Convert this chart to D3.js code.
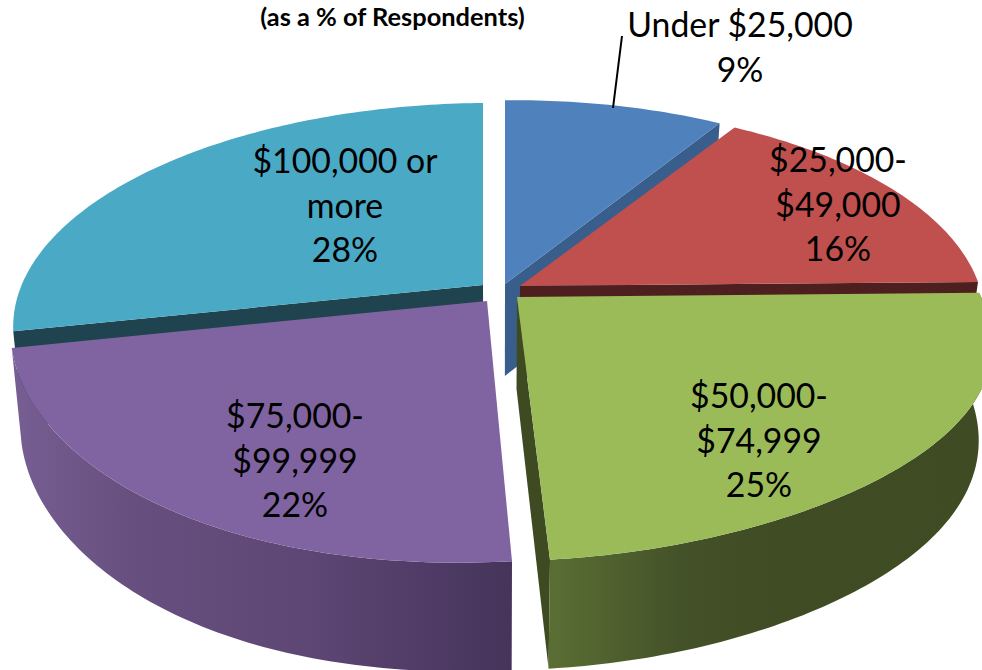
<!DOCTYPE html>
<html><head><meta charset="utf-8">
<script src="https://cdn.jsdelivr.net/npm/d3@7"></script>
<style>html,body{margin:0;padding:0;background:#fff;overflow:hidden}svg{display:block}text{font-family:Lato,Carlito,"Open Sans",sans-serif;fill:#000}</style>
</head><body><svg width="982" height="670"></svg>
<script>
(function(){
const titleText = "(as a % of Respondents)";
const categories = ["Under $25,000", "$25,000-$49,000", "$50,000-$74,999", "$75,000-$99,999", "$100,000 or more"];
const values = [9, 16, 25, 22, 28];
const labelLines = [["Under $25,000"], ["$25,000-", "$49,000"], ["$50,000-", "$74,999"], ["$75,000-", "$99,999"], ["$100,000 or", "more"]];
const topColors = ["#4f81bd", "#c0504d", "#9bbb59", "#8064a2", "#4aaac5"];
const edgeColors = ["#3a5e8b", "#4d1f1e", "#3d4a22", "#46345a", "#1f444f"];

// layout of each exploded slice: apex, radii and lean
const geom = [
  {ox:505, oy:284, R:458, S:215, lean:0},
  {ox:520, oy:286, R:458, S:212, lean:0},
  {ox:517, oy:297, R:462, S:218, lean:33},
  {ox:487, oy:301, R:473, S:216, lean:25},
  {ox:483, oy:285, R:463, S:213, lean:0}
];
const labelPos = [[740,37],[838,172],[759,408],[295,428],[345,173]];
const k = 0.17, roll = 0.009, frontRoll = 25;
const svg = d3.select("svg");
const defs = svg.append("defs");
function grad(id, stops){
  const g = defs.append("linearGradient").attr("id",id).attr("gradientUnits","userSpaceOnUse")
    .attr("x1",stops[0][0]).attr("x2",stops[stops.length-1][0]).attr("y1",0).attr("y2",0);
  const a=stops[0][0], b=stops[stops.length-1][0];
  stops.forEach(s=>g.append("stop").attr("offset",(s[0]-a)/(b-a)).attr("stop-color",s[1]));
}
grad("wall2",[[550,"#5a6e34"],[680,"#445229"],[770,"#404c24"],[982,"#3f4b23"]]);
grad("wall3",[[12,"#775e93"],[130,"#67507f"],[300,"#5e4775"],[420,"#503c67"],[512,"#46345a"]]);

const pie = d3.pie().sort(null).startAngle(0).endAngle(2*Math.PI)(values);
const line = d3.line();
function rimPoint(a, g){
  const X=Math.sin(a), Z=-Math.cos(a), w=1/(1-k*Z), F=Math.max(0,Z);
  const dx=g.R*X*w;
  return [g.ox+dx+g.lean*F, g.oy+g.S*Z*w-roll*dx-frontRoll*X*F*F];
}
function drop(p, Z){
  const shrink = p[0]>500 ? 0.972 : 0.98;
  return [500+(p[0]-500)*shrink, p[1]+92+17*Math.max(0,Z)];
}
function samples(a0,a1){const n=Math.max(2,Math.ceil((a1-a0)*60));return d3.range(n+1).map(i=>a0+(a1-a0)*i/n);}

const order=[0,1,4,3,2];
order.forEach(i=>{
  const d=pie[i], g=geom[i], G=svg.append("g");
  const apex=[g.ox,g.oy], apexDrop=drop(apex,0);
  // visible radial walls
  if(i===0||i===4){
    const a=i===0?d.endAngle:d.startAngle, r=rimPoint(a,g), rb=drop(r,-Math.cos(a));
    G.append("path").attr("d",line([apex,r,rb,apexDrop])+"Z").attr("fill",edgeColors[i]);
  }
  if(i===1){
    const a=d.endAngle, r=rimPoint(a,g), rb=drop(r,0);
    G.append("path").attr("d",line([apex,r,rb,apexDrop])+"Z").attr("fill",edgeColors[i]);
  }
  if(i===2){
    const a=d.endAngle, r=rimPoint(a,g), rb=drop(r,1);
    G.append("path").attr("d",line([apex,r,rb,apexDrop])+"Z").attr("fill",edgeColors[i]);
  }
  // rim wall
  if(i===2||i===3){
    const as=samples(d.startAngle,d.endAngle);
    const t=as.map(a=>rimPoint(a,g)), b=as.map(a=>drop(rimPoint(a,g),-Math.cos(a))).reverse();
    G.append("path").attr("d",line(t.concat(b))+"Z").attr("fill",`url(#wall${i})`);
  }
  // top face
  const face=[apex].concat(samples(d.startAngle,d.endAngle).map(a=>rimPoint(a,g)));
  G.append("path").attr("d",line(face)+"Z").attr("fill",topColors[i]);
});

// leader line
svg.append("line").attr("x1",622).attr("y1",36).attr("x2",613).attr("y2",108).attr("stroke","#000").attr("stroke-width",2);

svg.append("text").text(titleText).attr("x",392.5).attr("y",26).attr("text-anchor","middle").attr("font-size",25.4).attr("font-weight",700);

const fs=33.8, lh=44.5;
values.forEach((v,i)=>{
  const t=svg.append("text").attr("text-anchor","middle").attr("font-size",fs);
  labelLines[i].concat([v+"%"]).forEach((s,j)=>{
    t.append("tspan").attr("x",labelPos[i][0]).attr("y",labelPos[i][1]+j*lh).text(s);
  });
});
})();
</script></body></html>
